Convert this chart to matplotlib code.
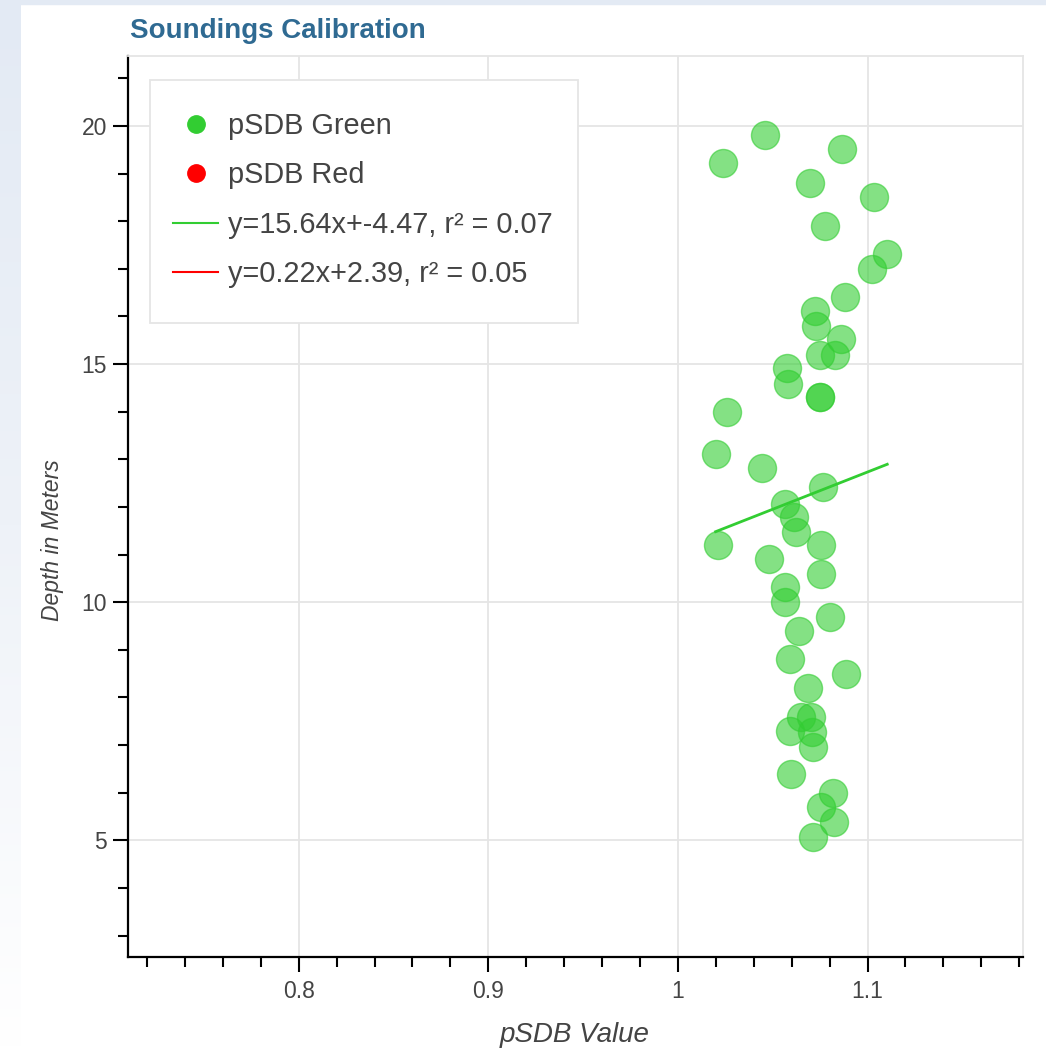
import numpy as np
import matplotlib
matplotlib.use("Agg")
import matplotlib.pyplot as plt
from matplotlib.lines import Line2D
from matplotlib.patches import Rectangle
from matplotlib.colors import LinearSegmentedColormap

plt.rcParams['font.family'] = ['Liberation Sans', 'DejaVu Sans']

# ---- data ----
green_x = [1.0462, 1.0237, 1.0867, 1.0699, 1.1033, 1.0775, 1.1104, 1.1025,
           1.0879, 1.0722, 1.0726, 1.0858, 1.0747, 1.0826, 1.0577, 1.0580,
           1.0747, 1.0747, 1.0260, 1.0199, 1.0441, 1.0764, 1.0564, 1.0611,
           1.0624, 1.0213, 1.0757, 1.0483, 1.0757, 1.0564, 1.0564, 1.0800,
           1.0638, 1.0589, 1.0884, 1.0685, 1.0647, 1.0703, 1.0589, 1.0708,
           1.0712, 1.0594, 1.0817, 1.0756, 1.0823, 1.0712]
green_y = [19.81, 19.22, 19.51, 18.81, 18.50, 17.91, 17.31, 17.00,
           16.40, 16.12, 15.80, 15.52, 15.20, 15.19, 14.92, 14.59,
           14.31, 14.31, 14.00, 13.11, 12.81, 12.41, 12.07, 11.79,
           11.48, 11.20, 11.20, 10.90, 10.59, 10.32, 10.01, 9.69,
           9.40, 8.80, 8.50, 8.19, 7.59, 7.59, 7.30, 7.28,
           6.97, 6.40, 6.00, 5.70, 5.38, 5.08]
red_x = []
red_y = []
green_fit = (15.64, -4.47, 0.07)   # slope, intercept, r^2
red_fit = (0.22, 2.39, 0.05)

title = "Soundings Calibration"
x_label = "pSDB Value"
y_label = "Depth in Meters"
x_ticks = [0.8, 0.9, 1.0, 1.1]
x_tick_labels = ["0.8", "0.9", "1", "1.1"]
y_ticks = [5, 10, 15, 20]
y_tick_labels = ["5", "10", "15", "20"]
x_range = (0.710, 1.182)
y_range = (2.55, 21.47)

GREEN = "#32cd32"
RED = "#ff0000"
TXT = "#444444"

W, H = 1046, 1050
fig = plt.figure(figsize=(W/100, H/100), dpi=100)
fig.patch.set_facecolor("white")

# decorative page background (light blue top strip and left gradient)
bg = fig.add_axes([0, 0, 1, 1], zorder=-10)
bg.set_xlim(0, W); bg.set_ylim(H, 0); bg.axis("off")
grad = np.linspace(0, 1, 256).reshape(-1, 1)
cm = LinearSegmentedColormap.from_list("bgc", ["#e3eaf4", "#eef2f8", "#ffffff"])
bg.imshow(grad, extent=[0, 21, H, 0], aspect="auto", cmap=cm, zorder=0)
bg.add_patch(Rectangle((0, 0), W, 4, color="#e3eaf4", zorder=1))

L, R, T, B = 128, 1023, 56, 957
ax = fig.add_axes([L/W, 1-B/H, (R-L)/W, (B-T)/H])
ax.set_facecolor("white")

ax.scatter(green_x, green_y, s=28**2*0.52, color=GREEN, alpha=0.6,
           edgecolors=GREEN, linewidths=1, zorder=3)
ax.scatter(red_x, red_y, s=28**2*0.52, color=RED, alpha=0.6, zorder=3)

gx = np.array([min(green_x), max(green_x)])
ax.plot(gx, green_fit[0]*gx + green_fit[1], color=GREEN, lw=2, zorder=4)

ax.set_xlim(*x_range)
ax.set_ylim(*y_range)

ax.set_xticks(x_ticks)
ax.set_xticklabels(x_tick_labels)
ax.set_yticks(y_ticks)
ax.set_yticklabels(y_tick_labels)
ax.set_xticks(np.arange(0.72, 1.19, 0.02), minor=True)
ax.set_yticks(np.arange(3, 22, 1), minor=True)

ax.grid(True, which="major", color="#e5e5e5", lw=1.3, zorder=0)
ax.set_axisbelow(True)

for s in ["top", "right"]:
    ax.spines[s].set_color("#e5e5e5")
    ax.spines[s].set_linewidth(1.3)
for s in ["left", "bottom"]:
    ax.spines[s].set_color("black")
    ax.spines[s].set_linewidth(1.6)

ax.tick_params(which="major", direction="out", length=10.8, width=1.5,
               color="black", labelsize=16.5, labelcolor=TXT)
ax.tick_params(axis="x", which="major", pad=6)
ax.tick_params(axis="y", which="major", pad=4.3)
ax.tick_params(which="minor", direction="out", length=7.2, width=1.5, color="black")

ax.set_xlabel(x_label, fontsize=20, style="italic", color=TXT)
ax.set_ylabel(y_label, fontsize=16.5, style="italic", color=TXT)
ax.xaxis.set_label_coords(0.4994, -0.0866)
ax.yaxis.set_label_coords(-0.084, 0.463)
ax.xaxis.label.set_va("center")
ax.yaxis.label.set_va("center")

fig.text(130/W, 1-31/H, title, fontsize=20, fontweight="bold",
         color="#2f6a92", va="center", ha="left")

# legend frame
ax.add_patch(Rectangle(((150-L)/(R-L), 1-(323-T)/(B-T)),
                       (578-150)/(R-L), (323-80)/(B-T),
                       transform=ax.transAxes, facecolor="white",
                       edgecolor="#e5e5e5", lw=1.3, zorder=5))

handles = [
    Line2D([], [], ls="", marker="o", markersize=12.5, color=GREEN),
    Line2D([], [], ls="", marker="o", markersize=12.5, color=RED),
    Line2D([], [], color=GREEN, lw=1.5),
    Line2D([], [], color=RED, lw=1.5),
]
labels = [
    "pSDB Green",
    "pSDB Red",
    "y={:.2f}x+{:.2f}, r\u00b2 = {:.2f}".format(*green_fit),
    "y={:.2f}x+{:.2f}, r\u00b2 = {:.2f}".format(*red_fit),
]
leg = ax.legend(handles, labels, loc="upper left",
                bbox_to_anchor=((150-L)/(R-L), 1-(89-T)/(B-T)),
                borderaxespad=0, fontsize=20.8, frameon=False,
                handlelength=1.55, handletextpad=0.35, labelspacing=0.74,
                borderpad=0.8, labelcolor=TXT)
leg.set_zorder(6)

fig.savefig("out.png", dpi=100, facecolor=fig.get_facecolor())
